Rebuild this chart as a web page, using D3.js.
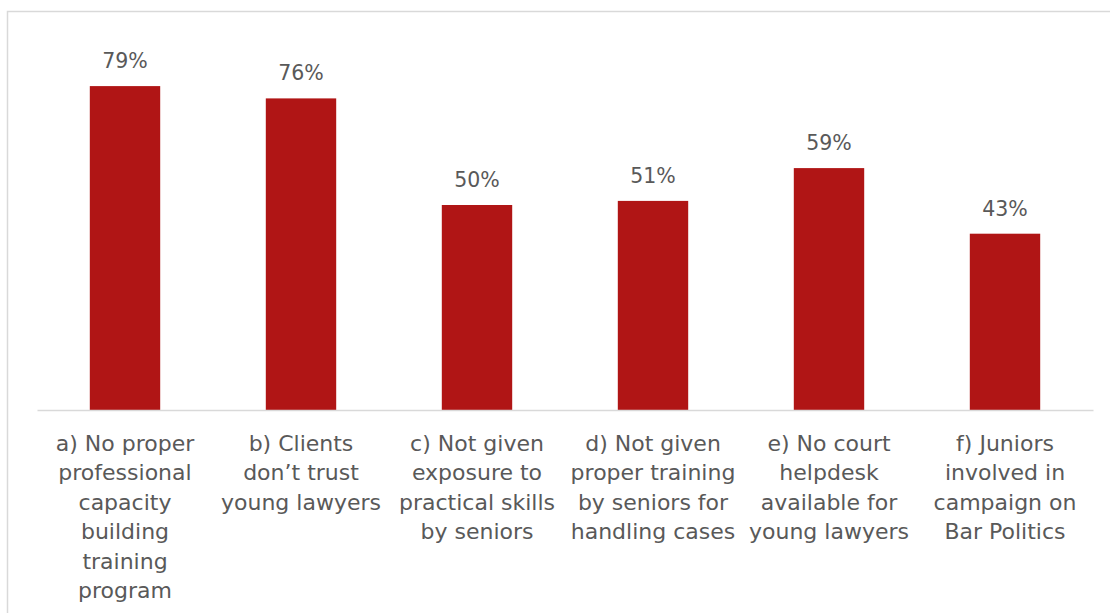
<!DOCTYPE html>
<html>
<head>
<meta charset="utf-8">
<script src="https://cdn.jsdelivr.net/npm/d3@7"></script>
<style>
  html, body { margin: 0; padding: 0; background: #fff; }
  svg { display: block; }
</style>
</head>
<body>
<svg id="chart" width="1110" height="613"></svg>
<script>
// Category labels, one array of lines per bar
const categories = ["a", "b", "c", "d", "e", "f"];
const categoryLines = [
  ["a) No proper", "professional", "capacity", "building", "training", "program"],
  ["b) Clients", "don\u2019t trust", "young lawyers"],
  ["c) Not given", "exposure to", "practical skills", "by seniors"],
  ["d) Not given", "proper training", "by seniors for", "handling cases"],
  ["e) No court", "helpdesk", "available for", "young lawyers"],
  ["f) Juniors", "involved in", "campaign on", "Bar Politics"]
];
const values = [79, 76, 50, 51, 59, 43];
const valueLabels = ["79%", "76%", "50%", "51%", "59%", "43%"];

const svg = d3.select("#chart");
const W = 1110, H = 613;
const font = "'DejaVu Sans', sans-serif";
const textColor = "#595959";
const barColor = "#B01515";

// outer frame
svg.append("rect")
  .attr("x", 7.5).attr("y", 11.5)
  .attr("width", W + 20).attr("height", H + 20)
  .attr("fill", "#fff")
  .attr("stroke", "#D9D9D9")
  .attr("stroke-width", 1.5);

const x = d3.scaleBand()
  .domain(categories)
  .range([37, 1093])
  .paddingInner(0.6)
  .paddingOuter(0.3);

const y = d3.scaleLinear()
  .domain([0, 90])
  .range([410, 41]);

// bars
svg.append("g").selectAll("rect")
  .data(values)
  .join("rect")
  .attr("x", (d, i) => x(categories[i]))
  .attr("y", d => y(d))
  .attr("width", x.bandwidth())
  .attr("height", d => y(0) - y(d))
  .attr("fill", barColor);

// baseline axis
const axis = svg.append("g")
  .attr("transform", `translate(0,${y(0)})`)
  .call(d3.axisBottom(x).tickSize(0).tickFormat(""));
axis.select(".domain")
  .attr("stroke", "#D9D9D9")
  .attr("stroke-width", 1.5);

// value labels
svg.append("g").selectAll("text")
  .data(values)
  .join("text")
  .attr("x", (d, i) => x(categories[i]) + x.bandwidth() / 2)
  .attr("y", d => y(d) - 18)
  .attr("text-anchor", "middle")
  .attr("font-family", font)
  .attr("font-size", 20.5)
  .attr("fill", textColor)
  .text((d, i) => valueLabels[i]);

// category labels
const lineHeight = 29.4;
const labels = svg.append("g").selectAll("text")
  .data(categories)
  .join("text")
  .attr("x", d => x(d) + x.bandwidth() / 2)
  .attr("y", y(0) + 41)
  .attr("text-anchor", "middle")
  .attr("font-family", font)
  .attr("font-size", 22)
  .attr("fill", textColor);

labels.each(function(d, i) {
  const t = d3.select(this);
  const cx = x(d) + x.bandwidth() / 2;
  categoryLines[i].forEach((line, k) => {
    t.append("tspan")
      .attr("x", cx)
      .attr("dy", k === 0 ? 0 : lineHeight)
      .text(line);
  });
});
</script>
</body>
</html>
